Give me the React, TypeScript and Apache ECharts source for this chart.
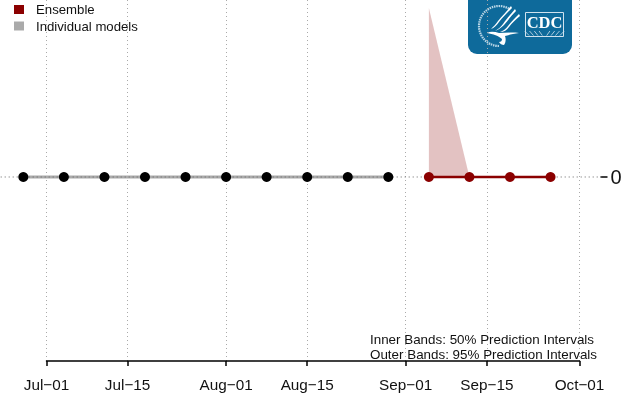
import React, { useEffect, useRef } from "react";
import * as echarts from "echarts";

const day = (s: string) => Date.parse(s + "T00:00:00Z");

const observedDates = ["2020-06-27", "2020-07-04", "2020-07-11", "2020-07-18", "2020-07-25", "2020-08-01", "2020-08-08", "2020-08-15", "2020-08-22", "2020-08-29"];
const observedValues = [0, 0, 0, 0, 0, 0, 0, 0, 0, 0];
const forecastDates = ["2020-09-05", "2020-09-12", "2020-09-19", "2020-09-26"];
const forecastValues = [0, 0, 0, 0];
const bandDates = ["2020-09-05", "2020-09-12"];
const bandUpper = [1, 0];
const zeroLineDates = ["2020-06-01", "2020-10-31"];
const zeroLineValues = [0, 0];
const tickDates = ["2020-07-01", "2020-07-15", "2020-08-01", "2020-08-15", "2020-09-01", "2020-09-15", "2020-10-01"];
const tickLabels = ["Jul\u221201", "Jul\u221215", "Aug\u221201", "Aug\u221215", "Sep\u221201", "Sep\u221215", "Oct\u221201"];
const noteLines = ["Inner Bands: 50% Prediction Intervals", "Outer Bands: 95% Prediction Intervals"];
const rayOffsets = [-14, -10, -6, -2, 2, 6, 10, 14];

const FONT = "Liberation Sans";
const DARKRED = "#8B0000";
const TEXT = "#111";
const LOGO_BLUE = "#0E6A9B";

const pairs = (xs: string[], ys: number[]) => xs.map((d, i) => [day(d), ys[i]]);

const axisLeft = 46.5;
const axisWidth = 533;
const plotLeft = 0;
const plotWidth = 600.5;
const xFirst = day(tickDates[0]);
const xLast = day(tickDates[tickDates.length - 1]);
const msPerPx = (xLast - xFirst) / axisWidth;

const wingPath =
  "M515 9 C511 14 507 18 503 24 C501 27 498 29 495 31 C498 30 501 28 504 25 C508 20 512 15 516 11 Z " +
  "M519 14 C515 18 511 22 508 26 C506 29 503 31 500 32 C504 32 507 30 509 27 C512 23 516 19 520 16 Z " +
  "M511 6 C507 11 502 16 498 21 C496 24 493 27 491 29 C494 28 497 25 499 22 C503 17 508 12 512 8 Z " +
  "M487 33 C491 31 495 32 499 33 C505 33 512 32 519 33 C513 34 508 35 505 36 C506 39 506 42 504 45 C502 45 500 44 499 42 C501 42 502 41 502 39 C499 36 493 34 487 33 Z";

export default function App() {
  const ref = useRef<HTMLDivElement>(null);
  useEffect(() => {
    echarts.graphic.registerShape("eagle", echarts.graphic.extendPath(wingPath, {}));
    const chart = echarts.init(ref.current!, null, { renderer: "svg" });
    const yRange = { min: -1.0888, max: 1.0473 };
    chart.setOption({
      animation: false,
      textStyle: { fontFamily: FONT },
      legend: {
        orient: "vertical",
        left: 14,
        top: 3,
        padding: 0,
        itemWidth: 10,
        itemHeight: 9,
        itemGap: 3.5,
        icon: "rect",
        data: ["Ensemble", "Individual models"],
        textStyle: { fontFamily: FONT, fontSize: 13.2, color: TEXT, padding: [0, 0, 0, 7] },
      },
      grid: [
        { left: plotLeft, width: plotWidth, top: 0, height: 361, outerBoundsMode: "none" },
        { left: axisLeft, width: axisWidth, top: 0, height: 361, outerBoundsMode: "none" },
      ],
      xAxis: [
        {
          gridIndex: 0,
          type: "value",
          show: false,
          min: xFirst - (axisLeft - plotLeft) * msPerPx,
          max: xFirst + (plotLeft + plotWidth - axisLeft) * msPerPx,
          splitLine: { show: false },
        },
        {
          gridIndex: 1,
          type: "value",
          min: xFirst,
          max: xLast,
          axisLine: { show: true, onZero: false, lineStyle: { color: "#000", width: 1.5 } },
          axisTick: { show: true, length: 5, customValues: tickDates.map(day), lineStyle: { color: "#000", width: 1.5 } },
          axisLabel: {
            show: true,
            customValues: tickDates.map(day),
            formatter: (v: number) => tickLabels[tickDates.map(day).indexOf(v)] ?? "",
            fontFamily: FONT,
            fontSize: 15.3,
            color: TEXT,
            margin: 16,
            hideOverlap: false,
            showMinLabel: true,
            showMaxLabel: true,
          },
          splitLine: { show: true, lineStyle: { color: "#aaa", width: 1, type: [1, 3] } },
        },
      ],
      yAxis: [
        {
          gridIndex: 0,
          type: "value",
          position: "right",
          ...yRange,
          axisLine: { show: false },
          axisTick: { show: true, length: 7, customValues: [0], lineStyle: { color: "#000", width: 1.5 } },
          axisLabel: { show: true, customValues: [0], formatter: (v: number) => String(v), fontFamily: FONT, fontSize: 20, color: TEXT, margin: 10 },
          splitLine: { show: false },
        },
        { gridIndex: 1, type: "value", show: false, ...yRange, splitLine: { show: false } },
      ],
      series: [
        {
          name: "band",
          type: "line",
          showSymbol: false,
          data: pairs(bandDates, bandUpper),
          lineStyle: { width: 0 },
          areaStyle: { color: DARKRED, opacity: 0.24, origin: 0 },
          z: 2,
        },
        {
          name: "Individual models",
          type: "line",
          showSymbol: false,
          color: "#AAAAAA",
          data: pairs(observedDates, observedValues),
          lineStyle: { color: "#AAAAAA", width: 3 },
          z: 3,
        },
        {
          name: "zero",
          type: "line",
          silent: true,
          showSymbol: false,
          data: pairs(zeroLineDates, zeroLineValues),
          lineStyle: { color: "#666", width: 1, type: [1, 3] },
          z: 4,
        },
        {
          name: "observed",
          type: "line",
          symbol: "circle",
          symbolSize: 10,
          showSymbol: true,
          showAllSymbol: true,
          data: pairs(observedDates, observedValues),
          itemStyle: { color: "#000" },
          lineStyle: { width: 0 },
          z: 5,
        },
        {
          name: "Ensemble",
          type: "line",
          symbol: "circle",
          symbolSize: 10,
          showAllSymbol: true,
          color: DARKRED,
          data: pairs(forecastDates, forecastValues),
          itemStyle: { color: DARKRED },
          lineStyle: { color: DARKRED, width: 2.5 },
          z: 6,
        },
      ],
      graphic: [
        {
          type: "text",
          left: 370,
          top: 333,
          style: { text: noteLines[0], font: `13.4px "${FONT}"`, fill: TEXT },
          z: 10,
        },
        {
          type: "text",
          left: 370,
          top: 348,
          style: { text: noteLines[1], font: `13.4px "${FONT}"`, fill: TEXT },
          z: 10,
        },
        {
          type: "group",
          z: 20,
          children: [
            { type: "rect", shape: { x: 468, y: -10, width: 104, height: 64, r: 9 }, style: { fill: LOGO_BLUE } },
            {
              type: "arc",
              shape: { cx: 499, cy: 26, r: 20, startAngle: Math.PI * 0.5, endAngle: Math.PI * 1.68 },
              style: { stroke: "#B9D6E6", fill: "none", lineWidth: 2.2, lineDash: [1.5, 0.8] },
            },
            { type: "eagle", style: { fill: "#fff" } },
            { type: "rect", shape: { x: 525.5, y: 12.5, width: 38, height: 24 }, style: { fill: LOGO_BLUE, stroke: "#CFE2EE", lineWidth: 1 } },
            ...rayOffsets.map((o) => ({
              type: "line",
              shape: { x1: 544.5 + o * 1.1, y1: 35.5, x2: 544.5 + o * 1.2 + (o > 0 ? 3 : -3), y2: 31 },
              style: { stroke: "#CFE2EE", lineWidth: 0.8 },
            })),
            { type: "text", x: 544.5, y: 22.5, style: { text: "CDC", font: `bold 16.5px "Liberation Serif"`, fill: "#fff", align: "center", verticalAlign: "middle" } },
          ],
        },
      ],
    });
    return () => chart.dispose();
  }, []);
  return <div ref={ref} style={{ width: 623, height: 400, position: "fixed", left: 0, top: 0 }} />;
}
